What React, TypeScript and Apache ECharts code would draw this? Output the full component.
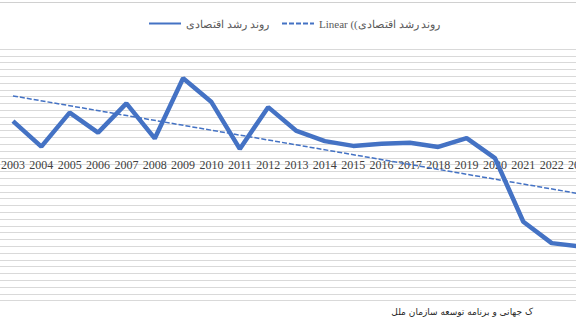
import React, { useEffect, useRef } from "react";
import * as echarts from "echarts";

const years = [
  "2003", "2004", "2005", "2006", "2007", "2008", "2009", "2010", "2011", "2012",
  "2013", "2014", "2015", "2016", "2017", "2018", "2019", "2020", "2021", "2022", "2023",
];
const growth = [
  8.8, 1.3, 11.3, 5.4, 14.0, 3.7, 21.4, 14.4, 0.6, 12.9,
  5.9, 2.9, 1.5, 2.1, 2.4, 1.2, 3.8, -2.1, -20.8, -27.1, -28.1,
];
// linear trendline: read endpoints only
const trendStart = 16.2;
const trendEnd = -12.6;
const seriesName = "روند رشد اقتصادی";
const trendName = "Linear ((روند رشد اقتصادی";
const sourceText = "ک جهانی و برنامه توسعه سازمان ملل";

const Y_MIN = -44;
const Y_MAX = 30;
const GRID_TOP = 49;
const GRID_H = 251.6;

export default function App() {
  const ref = useRef<HTMLDivElement>(null);
  useEffect(() => {
    if (!ref.current) return;
    const chart = echarts.init(ref.current, null, { renderer: "svg" });
    const trend = years.map((_, i) =>
      i === 0 ? trendStart : i === years.length - 1 ? trendEnd : null
    );
    // distance from the bottom of the grid up to the zero line
    const zeroOffset = (GRID_H * (0 - Y_MIN)) / (Y_MAX - Y_MIN);
    const legendBase = {
      top: 13,
      itemWidth: 32,
      itemHeight: 10,
      itemStyle: { opacity: 0 },
      textStyle: { color: "#595959", fontSize: 11, fontFamily: "Liberation Serif" },
    };
    chart.setOption({
      animation: false,
      backgroundColor: "#ffffff",
      legend: [
        { ...legendBase, data: [seriesName], left: 143 },
        { ...legendBase, data: [trendName], left: 276 },
      ],
      grid: {
        left: -1.2,
        width: 595.4,
        top: GRID_TOP,
        height: GRID_H,
        containLabel: false,
        outerBoundsMode: "none",
      },
      xAxis: {
        type: "category",
        data: years,
        boundaryGap: true,
        position: "bottom",
        offset: -zeroOffset,
        axisLine: {
          show: true,
          onZero: false,
          lineStyle: { color: "#d9d9d9", width: 1 },
        },
        axisTick: { show: false },
        axisLabel: {
          interval: 0,
          margin: 8,
          color: "#404040",
          fontSize: 12,
          fontFamily: "Liberation Serif",
        },
        splitLine: { show: false },
      },
      yAxis: {
        type: "value",
        min: Y_MIN,
        max: Y_MAX,
        interval: 2,
        axisLabel: { show: false },
        axisLine: { show: false },
        axisTick: { show: false },
        splitLine: { show: true, lineStyle: { color: "#d9d9d9", width: 1 } },
      },
      series: [
        {
          name: seriesName,
          type: "line",
          data: growth,
          symbol: "none",
          lineStyle: { color: "#4472C4", width: 4.5 },
          itemStyle: { color: "#4472C4" },
          z: 3,
        },
        {
          name: trendName,
          type: "line",
          data: trend,
          connectNulls: true,
          symbol: "none",
          lineStyle: { color: "#4472C4", width: 1.5, type: [5, 2] },
          itemStyle: { color: "#4472C4" },
          z: 2,
        },
      ],
      graphic: [
        {
          type: "line",
          shape: { x1: 0, y1: 2.5, x2: 576, y2: 2.5 },
          style: { stroke: "#d0d0d0", lineWidth: 1 },
        },
        {
          type: "text",
          x: 533,
          y: 312,
          style: {
            text: sourceText,
            fill: "#262626",
            fontSize: 9,
            fontFamily: "DejaVu Sans",
            align: "right",
            verticalAlign: "middle",
          },
        },
      ],
    });
    return () => chart.dispose();
  }, []);
  return (
    <div
      ref={ref}
      style={{ position: "fixed", left: 0, top: 0, width: 576, height: 324 }}
    />
  );
}
